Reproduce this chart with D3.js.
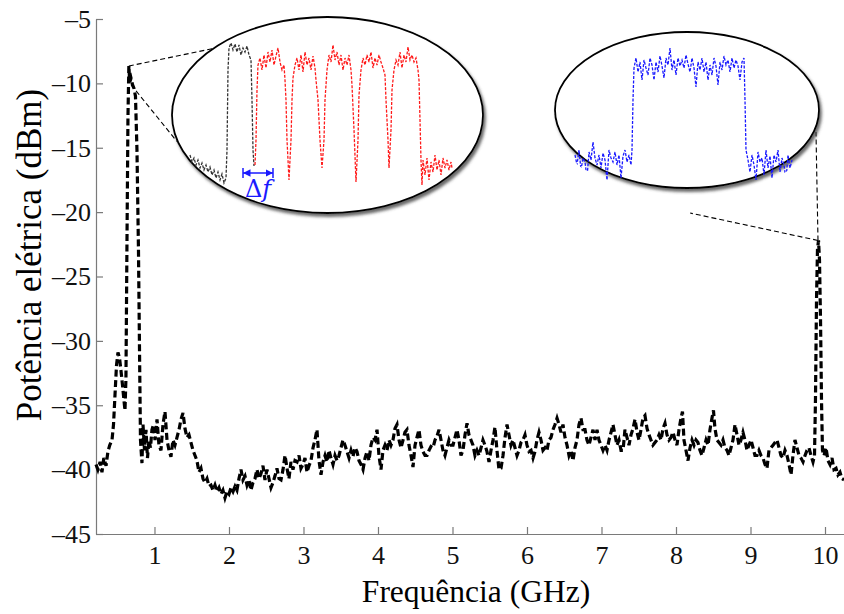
<!DOCTYPE html>
<html>
<head>
<meta charset="utf-8">
<script src="https://cdn.jsdelivr.net/npm/d3@7/dist/d3.min.js"></script>
<style>
body { margin: 0; background: #fff; }
</style>
</head>
<body>
<div class="graph"></div>
<script>
// tick labels
const xTicks = [1, 2, 3, 4, 5, 6, 7, 8, 9, 10]
const yTicks = [-45, -40, -35, -30, -25, -20, -15, -10, -5]

// main spectrum [GHz, dBm]
const spectrum = [
  [0.215,-39.6],[0.24,-40.0],[0.27,-39.4],[0.295,-40.2],[0.32,-39.1],[0.35,-39.7],[0.375,-38.6],[0.40,-38.1],
  [0.43,-37.7],[0.45,-36.5],[0.47,-34.2],[0.49,-31.9],[0.51,-30.9],[0.53,-31.3],[0.55,-32.3],[0.57,-33.4],
  [0.59,-34.6],[0.604,-35.4],[0.617,-32.9],[0.63,-22.9],[0.644,-12.6],[0.656,-8.65],[0.668,-9.9],[0.685,-9.6],
  [0.705,-10.1],[0.725,-10.4],[0.745,-11.0],[0.765,-15.2],[0.785,-22.9],[0.799,-30.7],[0.812,-37.7],[0.832,-39.5],
  [0.846,-36.5],[0.866,-38.5],[0.886,-36.9],[0.906,-39.1],[0.926,-37.7],[0.946,-38.3],[0.966,-36.9],[0.987,-36.5],
  [1.007,-37.7],[1.034,-36.1],[1.060,-38.1],[1.087,-38.5],[1.114,-36.5],[1.141,-35.5],[1.168,-37.7],[1.195,-38.5],
  [1.221,-39.0],[1.248,-37.7],[1.275,-38.1],[1.302,-37.5],[1.329,-36.9],[1.356,-36.1],[1.383,-35.6],[1.409,-36.8],
  [1.436,-37.5],[1.463,-37.3],[1.490,-37.9],[1.517,-38.5],[1.544,-38.9],[1.570,-39.3],[1.597,-40.2],[1.624,-39.9],
  [1.651,-40.7],[1.678,-41.0],[1.705,-40.7],[1.732,-41.3],[1.758,-41.2],[1.785,-41.6],[1.812,-41.2],[1.839,-41.7],
  [1.866,-41.4],[1.893,-41.9],[1.919,-41.6],[1.946,-42.2],[1.973,-41.7],[2.000,-41.9],[2.027,-41.4],[2.054,-41.7],
  [2.081,-41.3],[2.107,-41.6],[2.134,-40.7],[2.161,-40.0],[2.188,-40.8],[2.215,-40.5],[2.242,-41.2],[2.268,-40.8],
  [2.295,-41.6],[2.322,-41.0],[2.349,-40.7],[2.376,-40.0],[2.403,-40.7],[2.430,-40.3],[2.456,-39.7],[2.483,-40.8],
  [2.510,-40.0],[2.537,-40.7],[2.564,-41.4],[2.591,-41.0],[2.617,-40.5],[2.644,-39.9],[2.671,-40.7],[2.698,-40.8],
  [2.725,-40.0],[2.752,-38.9],[2.779,-39.9],[2.805,-40.7],[2.832,-39.4],[2.859,-40.0],[2.886,-39.3],[2.913,-39.4],
  [2.940,-38.9],[2.966,-39.9],[2.993,-39.6],[3.020,-39.1],[3.047,-40.2],[3.074,-39.7],[3.101,-39.3],[3.128,-38.3],
  [3.154,-37.7],[3.181,-36.9],[3.208,-39.3],[3.235,-40.4],[3.262,-39.4],[3.289,-38.9],[3.315,-39.4],[3.342,-38.5],
  [3.369,-39.1],[3.396,-39.6],[3.423,-38.9],[3.450,-39.3],[3.477,-38.9],[3.503,-38.3],[3.530,-37.7],[3.557,-38.1],
  [3.584,-38.6],[3.611,-39.1],[3.638,-38.5],[3.664,-39.0],[3.691,-38.3],[3.718,-38.6],[3.745,-39.3],[3.772,-39.6],
  [3.799,-40.0],[3.826,-39.1],[3.852,-38.6],[3.879,-39.3],[3.906,-38.1],[3.933,-37.5],[3.960,-37.7],[3.987,-36.9],
  [4.013,-38.9],[4.040,-40.0],[4.067,-38.5],[4.094,-38.1],[4.121,-38.5],[4.148,-37.7],[4.174,-38.1],[4.201,-37.7],
  [4.228,-36.8],[4.255,-36.5],[4.282,-37.7],[4.309,-38.3],[4.336,-37.7],[4.362,-37.1],[4.389,-36.9],[4.416,-38.1],
  [4.443,-38.9],[4.470,-39.8],[4.497,-38.1],[4.523,-37.5],[4.550,-36.9],[4.577,-38.1],[4.604,-38.6],[4.631,-38.9],
  [4.658,-38.9],[4.685,-38.5],[4.711,-38.2],[4.738,-38.3],[4.765,-37.7],[4.792,-37.4],[4.819,-36.9],[4.846,-37.7],
  [4.872,-38.5],[4.899,-38.9],[4.926,-38.3],[4.953,-37.7],[4.980,-38.1],[5.007,-38.1],[5.034,-37.5],[5.060,-36.9],
  [5.087,-37.7],[5.114,-38.9],[5.141,-38.5],[5.168,-37.3],[5.195,-36.4],[5.221,-37.3],[5.248,-37.7],[5.275,-38.1],
  [5.302,-38.9],[5.329,-38.5],[5.356,-38.9],[5.383,-38.3],[5.409,-37.7],[5.436,-38.1],[5.463,-38.6],[5.490,-39.4],
  [5.517,-38.5],[5.544,-37.7],[5.570,-36.7],[5.597,-38.5],[5.624,-40.0],[5.651,-39.9],[5.678,-38.9],[5.705,-37.5],
  [5.732,-36.5],[5.758,-37.3],[5.785,-38.1],[5.812,-37.7],[5.839,-38.3],[5.866,-38.9],[5.893,-38.5],[5.919,-37.9],
  [5.946,-37.7],[5.973,-37.3],[6.000,-38.1],[6.027,-38.6],[6.054,-38.5],[6.081,-39.1],[6.107,-38.6],[6.134,-37.7],
  [6.161,-37.1],[6.188,-37.7],[6.215,-38.5],[6.242,-38.3],[6.268,-38.5],[6.295,-37.7],[6.322,-37.5],[6.349,-36.9],
  [6.376,-36.5],[6.403,-36.0],[6.430,-36.5],[6.456,-37.1],[6.483,-36.5],[6.510,-37.5],[6.537,-38.1],[6.564,-38.9],
  [6.591,-38.5],[6.617,-39.3],[6.644,-38.3],[6.671,-37.7],[6.698,-36.5],[6.725,-36.0],[6.752,-36.9],[6.779,-36.9],
  [6.805,-37.7],[6.832,-38.1],[6.859,-37.5],[6.886,-36.9],[6.913,-37.7],[6.940,-36.9],[6.966,-37.7],[6.993,-38.1],
  [7.020,-38.5],[7.047,-38.1],[7.074,-38.5],[7.101,-37.7],[7.128,-37.1],[7.154,-36.5],[7.181,-37.3],[7.208,-38.1],
  [7.235,-37.7],[7.262,-38.5],[7.289,-38.5],[7.315,-36.9],[7.342,-37.5],[7.369,-38.1],[7.396,-37.3],[7.423,-36.8],
  [7.450,-36.1],[7.477,-37.1],[7.503,-37.7],[7.530,-36.9],[7.557,-36.0],[7.584,-35.8],[7.611,-36.8],[7.638,-37.3],
  [7.664,-37.7],[7.691,-38.1],[7.718,-37.9],[7.745,-37.7],[7.772,-37.3],[7.799,-37.7],[7.826,-36.8],[7.852,-36.4],
  [7.879,-37.3],[7.906,-37.7],[7.933,-37.5],[7.960,-37.1],[7.987,-37.7],[8.013,-38.1],[8.040,-36.9],[8.067,-36.0],
  [8.087,-35.5],[8.107,-37.7],[8.134,-38.5],[8.161,-39.3],[8.188,-38.3],[8.215,-37.7],[8.242,-38.1],[8.268,-37.7],
  [8.295,-37.9],[8.322,-38.5],[8.349,-38.9],[8.376,-38.3],[8.403,-37.7],[8.430,-38.1],[8.456,-36.9],[8.483,-36.0],
  [8.503,-35.4],[8.523,-36.8],[8.550,-37.7],[8.577,-37.9],[8.604,-38.1],[8.631,-37.7],[8.658,-38.3],[8.685,-38.5],
  [8.711,-38.9],[8.738,-38.3],[8.765,-37.7],[8.792,-36.5],[8.819,-37.3],[8.846,-38.1],[8.872,-37.7],[8.899,-37.1],
  [8.926,-37.7],[8.953,-38.5],[8.980,-38.1],[9.007,-37.7],[9.034,-38.3],[9.060,-38.9],[9.087,-38.9],[9.114,-38.5],
  [9.141,-38.9],[9.168,-39.1],[9.195,-39.6],[9.221,-39.9],[9.248,-38.5],[9.275,-38.3],[9.302,-38.1],[9.329,-37.9],
  [9.356,-37.7],[9.383,-38.3],[9.409,-38.9],[9.436,-39.1],[9.463,-38.5],[9.490,-38.9],[9.517,-39.6],[9.544,-40.4],
  [9.570,-38.9],[9.597,-37.7],[9.624,-38.3],[9.651,-38.9],[9.678,-39.1],[9.705,-39.4],[9.732,-38.9],[9.758,-38.5],
  [9.785,-38.3],[9.812,-38.9],[9.839,-39.4],[9.859,-38.9],[9.872,-34.6],[9.886,-26.8],[9.899,-22.9],[9.913,-22.2],
  [9.926,-23.7],[9.940,-28.4],[9.953,-34.6],[9.966,-38.5],[9.987,-38.9],[10.013,-38.3],[10.040,-39.3],[10.067,-39.6],
  [10.094,-39.1],[10.121,-40.0],[10.148,-39.9],[10.174,-40.4],[10.201,-40.2],[10.228,-40.7],[10.255,-40.8]
]

// left zoom: reference carrier (black) and subcarriers (red) [MHz, dBm]
const insetBlack = [
  [3.5,-18.5],[4.5,-19.2],[5.5,-18.8],[6.5,-19.5],[7.5,-19.0],[8.5,-19.8],[9.5,-19.3],[10.5,-20.0],
  [11.5,-19.5],[12.5,-20.2],[13.5,-19.7],[14.5,-20.5],[15.5,-20.0],[16.5,-20.8],[17.5,-20.2],[18.5,-21.0],
  [19.5,-20.4],[20.5,-21.3],[21.5,-20.8],[22,-18.0],[22.5,-10.0],[23,-7.8],[24,-7.3],[25,-8.0],[26,-7.4],
  [27,-8.2],[28,-7.5],[29,-8.5],[30,-7.8],[31,-8.2],[32,-7.6],[33,-8.5],[34,-9.0],[34.5,-13.0],[35,-18.0],[35.5,-19.6]
]
const insetRed = [
  [36,-19.5],[36.5,-17.0],[37,-12.0],[37.5,-9.5],[38.5,-8.8],[39.5,-10.0],[40.5,-8.5],[41.5,-9.8],[42.5,-8.2],
  [43.5,-9.2],[44.5,-8.0],[45.5,-9.5],[46.5,-8.6],[47.5,-7.8],[48.5,-9.2],[49.5,-10.0],[50.5,-9.5],[51,-11.0],
  [51.5,-13.0],[52,-17.0],[53,-21.0],[54,-17.0],[54.5,-13.0],[55,-10.8],[56,-9.5],[57,-8.8],[58,-10.0],[59,-8.5],
  [60,-10.2],[61,-8.2],[62,-9.5],[63,-8.8],[64,-10.0],[65,-8.6],[66,-9.8],[66.5,-11.0],[67.5,-13.0],[68.5,-17.0],
  [69.5,-19.8],[70.5,-17.0],[71,-13.0],[72,-10.0],[73,-8.5],[74,-9.2],[75,-7.5],[76,-9.0],[77,-8.2],[78,-9.5],
  [79,-8.5],[80,-10.0],[81,-8.8],[82,-9.5],[83,-8.5],[84,-10.0],[84.5,-11.5],[85.5,-16.0],[86.5,-21.2],[87.5,-17.0],
  [88,-12.5],[89,-10.0],[90,-8.8],[91,-9.5],[92,-8.5],[93,-9.2],[94,-8.2],[95,-9.8],[96,-8.8],[97,-9.5],[98,-8.5],
  [99,-9.2],[100,-9.8],[101,-10.5],[101.5,-13.0],[102.5,-17.0],[103,-19.8],[104,-16.0],[104.5,-12.0],[105.5,-10.0],
  [106.5,-9.0],[107.5,-9.5],[108.5,-8.2],[109.5,-9.8],[110.5,-8.5],[111.5,-9.2],[112.5,-7.7],[113.5,-9.0],[114.5,-8.5],
  [115.5,-9.2],[116.5,-8.8],[117.5,-10.0],[118,-11.0],[118.5,-15.0],[119,-19.0],[119.5,-21.5],[120,-19.0],[121,-20.5],
  [122,-18.8],[123,-21.0],[124,-19.2],[125,-20.2],[126,-18.5],[127,-20.0],[128,-19.0],[129,-20.5],[130,-18.8],
  [131,-19.8],[132,-19.0],[133,-20.0],[134,-19.2],[134.5,-19.8]
]
const deltaF = [30, 45]
const deltaFLevel = -20.3

// right zoom: band near 9.9 GHz [MHz, dBm]
const insetBlue = [
  [7.5,-21.5],[8.5,-22.5],[9.5,-21.0],[10.5,-23.0],[11.5,-21.8],[12.5,-22.2],[13.5,-23.8],[14.5,-21.2],
  [15.5,-22.0],[16.5,-20.2],[17.5,-21.8],[18.5,-22.5],[19.5,-21.5],[20.5,-22.8],[21.5,-21.3],[22.5,-22.0],
  [23.5,-24.0],[24.5,-21.0],[25.5,-21.8],[26.5,-22.2],[27.5,-21.2],[28.5,-22.5],[29.5,-21.5],[30.5,-23.8],
  [31.5,-21.6],[32.5,-21.0],[33.5,-22.2],[34.5,-21.5],[35.5,-22.5],[36,-21.0],[36.5,-16.0],[37,-12.8],
  [38,-11.8],[39,-13.2],[40,-12.2],[41,-14.0],[42,-12.0],[43,-12.8],[44,-13.5],[45,-11.8],[46,-12.5],[47,-14.0],
  [48,-12.2],[49,-13.2],[50,-11.6],[51,-12.6],[52,-13.8],[53,-11.8],[54,-12.5],[55,-10.8],[56,-13.0],[57,-12.0],
  [58,-13.5],[59,-11.8],[60,-12.6],[61,-12.0],[62,-12.8],[63,-11.5],[64,-12.4],[65,-13.2],[66,-11.8],[67,-12.8],
  [68,-14.7],[69,-12.2],[70,-13.0],[71,-11.8],[72,-13.2],[73,-12.2],[74,-14.0],[75,-12.5],[76,-13.5],[77,-11.8],
  [78,-12.6],[79,-14.5],[80,-12.2],[81,-13.0],[82,-11.6],[83,-12.5],[84,-12.0],[85,-13.2],[86,-11.8],[87,-12.8],
  [88,-12.0],[89,-12.6],[90,-14.0],[91,-12.2],[92,-11.8],[92.5,-16.0],[93,-21.0],[94,-22.0],[95,-23.2],[96,-21.5],
  [97,-22.5],[98,-24.0],[99,-21.2],[100,-22.2],[101,-21.8],[102,-23.5],[103,-21.0],[104,-22.8],[105,-21.6],
  [106,-23.8],[107,-21.5],[108,-22.2],[109,-21.0],[110,-23.2],[111,-21.8],[112,-22.5],[113,-24.0],[114,-21.5],
  [115,-22.8],[116,-22.0]
]

// dashed guide lines from the peaks to the zoom ellipses [GHz, dBm]
const zoomLinks = [
  [[0.656, -8.65], [2.013, -7.02]],
  [[0.685, -10.1], [1.30, -14.5]],
  [[9.906, -22.2], [8.19, -20.07]],
  [[9.906, -22.2], [9.879, -13.78]]
]

// layout
let svgWidth = 844
let svgHeight = 614
let serif = '"Liberation Serif", Tinos, "Times New Roman", Times, serif'
let plot = { left: 96, right: 844, top: 19, bottom: 534 }
let leftZoom = { cx: 327.5, cy: 115, rx: 155.5, ry: 98, x0: 183, x1: 453, y0: 190, y1: 40, pad: 4 }
let rightZoom = { cx: 687, cy: 110, rx: 132, ry: 78, x0: 560, x1: 800, y0: 190, y1: 40, pad: 9 }

let svg = d3.select('.graph')
    .append('svg')
    .attr('width', svgWidth)
    .attr('height', svgHeight)

let defs = svg.append('defs')
let shadow = defs.append('filter')
    .attr('id', 'shadow')
    .attr('x', '-10%').attr('y', '-10%')
    .attr('width', '125%').attr('height', '130%')
shadow.append('feDropShadow')
    .attr('dx', 2).attr('dy', 3)
    .attr('stdDeviation', 1.8)
    .attr('flood-color', '#444')
    .attr('flood-opacity', 0.8)

// scales
let xScale = d3.scaleLinear().domain([0.215, 10.255]).range([plot.left, plot.right])
let yScale = d3.scaleLinear().domain([-45, -5]).range([plot.bottom, plot.top])

// axes
let xAxis = d3.axisBottom(xScale)
    .tickValues(xTicks)
    .tickSizeInner(-7)
    .tickSizeOuter(0)
    .tickPadding(12)
    .tickFormat(d3.format('d'))
let yAxis = d3.axisLeft(yScale)
    .tickValues(yTicks)
    .tickSizeInner(-7)
    .tickSizeOuter(0)
    .tickPadding(5)
    .tickFormat(d => '\u2013' + Math.abs(d))

svg.append('g')
    .attr('transform', `translate(0,${plot.bottom})`)
    .call(xAxis)
svg.append('g')
    .attr('transform', `translate(${plot.left},0)`)
    .call(yAxis)

svg.selectAll('.domain, .tick line')
    .attr('stroke', '#7a7a7a')
    .attr('stroke-width', 1.2)
svg.selectAll('.tick text')
    .style('font-family', serif)
    .style('font-size', '26px')
    .attr('fill', '#111')

// axis titles
svg.append('text')
    .attr('x', 476)
    .attr('y', 602)
    .attr('text-anchor', 'middle')
    .style('font-family', serif)
    .style('font-size', '31.5px')
    .text('Frequência (GHz)')
svg.append('text')
    .attr('transform', 'translate(41,255) rotate(-90)')
    .attr('text-anchor', 'middle')
    .style('font-family', serif)
    .style('font-size', '35px')
    .text('Potência elétrica (dBm)')

// guide lines
zoomLinks.forEach(function(d) {
    svg.append('line')
        .attr('x1', xScale(d[0][0])).attr('y1', yScale(d[0][1]))
        .attr('x2', xScale(d[1][0])).attr('y2', yScale(d[1][1]))
        .attr('stroke', '#000')
        .attr('stroke-width', 1.1)
        .attr('stroke-dasharray', '5,3')
})

// main trace
let valueLine = d3.line()
    .x(d => xScale(d[0]))
    .y(d => yScale(d[1]))

svg.append('path')
    .attr('d', valueLine(spectrum))
    .attr('fill', 'none')
    .attr('stroke', '#000')
    .attr('stroke-width', 3.2)
    .attr('stroke-dasharray', '7,3.5')

// zoom ellipses
function drawZoom(z, id, series) {
    defs.append('clipPath')
        .attr('id', id)
        .append('ellipse')
        .attr('cx', z.cx).attr('cy', z.cy)
        .attr('rx', z.rx + z.pad).attr('ry', z.ry + z.pad)

    svg.append('ellipse')
        .attr('cx', z.cx).attr('cy', z.cy)
        .attr('rx', z.rx).attr('ry', z.ry)
        .attr('fill', '#fff')
        .attr('stroke', '#000')
        .attr('stroke-width', 1.8)
        .attr('filter', 'url(#shadow)')

    let g = svg.append('g').attr('clip-path', `url(#${id})`)
    series.forEach(function(s) {
        let line = d3.line()
            .x(d => s.x(d[0]))
            .y(d => s.y(d[1]))
        g.append('path')
            .attr('d', line(s.data))
            .attr('fill', 'none')
            .attr('stroke', s.color)
            .attr('stroke-width', 1.3)
            .attr('stroke-dasharray', '3,1.5')
    })
    return g
}

let lx = d3.scaleLinear().domain([0, 135]).range([leftZoom.x0, leftZoom.x1])
let ly = d3.scaleLinear().domain([-22, -7]).range([leftZoom.y0, leftZoom.y1])
let rx = d3.scaleLinear().domain([0, 120]).range([rightZoom.x0, rightZoom.x1])
let ry = d3.scaleLinear().domain([-25, -10]).range([rightZoom.y0, rightZoom.y1])

drawZoom(leftZoom, 'clipLeft', [
    { data: insetBlack, x: lx, y: ly, color: '#333' },
    { data: insetRed, x: lx, y: ly, color: '#ff1a1a' }
])
drawZoom(rightZoom, 'clipRight', [
    { data: insetBlue, x: rx, y: ry, color: '#1a1aff' }
])

// delta f marker
let blue = '#1a1aff'
defs.append('marker')
    .attr('id', 'arrow')
    .attr('viewBox', '0 0 10 10')
    .attr('refX', 10).attr('refY', 5)
    .attr('markerWidth', 5).attr('markerHeight', 5)
    .attr('orient', 'auto-start-reverse')
    .append('path')
    .attr('d', 'M0,0 L10,5 L0,10 z')
    .attr('fill', blue)

let fy = ly(deltaFLevel)
svg.append('line')
    .attr('x1', lx(deltaF[0])).attr('x2', lx(deltaF[1]))
    .attr('y1', fy).attr('y2', fy)
    .attr('stroke', blue)
    .attr('stroke-width', 1.5)
    .attr('marker-start', 'url(#arrow)')
    .attr('marker-end', 'url(#arrow)')
deltaF.forEach(function(d) {
    svg.append('line')
        .attr('x1', lx(d)).attr('x2', lx(d))
        .attr('y1', fy - 5).attr('y2', fy + 5)
        .attr('stroke', blue)
        .attr('stroke-width', 1.5)
})
let label = svg.append('text')
    .attr('x', lx((deltaF[0] + deltaF[1]) / 2))
    .attr('y', fy + 24)
    .attr('text-anchor', 'middle')
    .style('font-family', '"DejaVu Serif", "Liberation Serif", serif')
    .style('font-size', '24px')
    .attr('fill', blue)
label.append('tspan').text('Δ')
label.append('tspan').style('font-style', 'italic').text('f')
</script>
</body>
</html>
